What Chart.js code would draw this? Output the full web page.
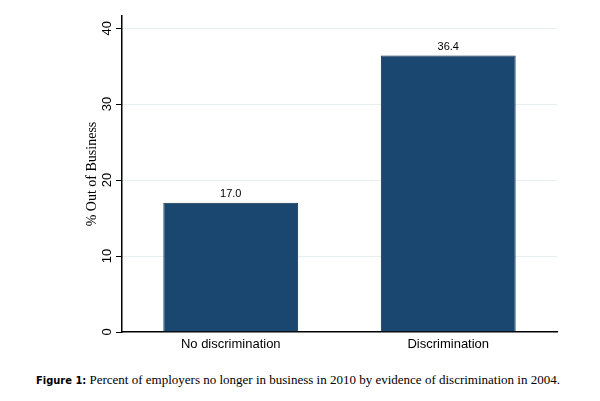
<!DOCTYPE html>
<html>
<head>
<meta charset="utf-8">
<script src="https://cdn.jsdelivr.net/npm/chart.js@4.4.1/dist/chart.umd.min.js"></script>
<style>
  html, body { margin: 0; padding: 0; background: #ffffff; }
  #wrap { position: relative; width: 600px; height: 401px; }
  #chart-box { position: absolute; left: 0; top: 0; width: 600px; height: 362px; }
  #caption {
    position: absolute; left: 0; top: 372px; width: 596px; text-align: center;
    font-family: 'Liberation Serif', serif; font-size: 13px; color: #000;
    white-space: nowrap;
  }
  #caption b { font-family: 'DejaVu Sans Condensed', 'Liberation Sans Narrow', sans-serif; font-size: 11px; }
</style>
</head>
<body>
<div id="wrap">
  <div id="chart-box"><canvas id="out-chart"></canvas></div>
  <div id="caption"><b>Figure 1:</b> Percent of employers no longer in business in 2010 by evidence of discrimination in 2004.</div>
</div>
<script>
// Chart data
const categories = ['No discrimination', 'Discrimination'];
const outOfBusiness = [17.0, 36.4];
const yTicks = [0, 10, 20, 30, 40];

const barFill = '#1a476f';
const gridColor = '#e6eef1';

// Rotated y tick labels and value labels above the bars
const labelPlugin = {
  id: 'labelPlugin',
  afterDraw(chart) {
    const ctx = chart.ctx;
    const yScale = chart.scales.y;
    ctx.save();
    ctx.fillStyle = '#000';
    ctx.font = "13px 'Liberation Sans', Arial, sans-serif";
    ctx.textAlign = 'center';
    ctx.textBaseline = 'middle';
    yTicks.forEach((t) => {
      const y = yScale.getPixelForValue(t);
      ctx.save();
      ctx.translate(yScale.right - 15, y);
      ctx.rotate(-Math.PI / 2);
      ctx.fillText(String(t), 0, 0);
      ctx.restore();
    });

    ctx.font = "11px 'Liberation Sans', Arial, sans-serif";
    ctx.textBaseline = 'bottom';
    chart.getDatasetMeta(0).data.forEach((bar, i) => {
      ctx.fillText(outOfBusiness[i].toFixed(1), bar.x, bar.y - 3);
    });
    ctx.restore();
  }
};

const ctx = document.getElementById('out-chart').getContext('2d');
window.outChart = new Chart(ctx, {
  type: 'bar',
  data: {
    labels: categories,
    datasets: [
      {
        data: outOfBusiness,
        backgroundColor: barFill,
        borderColor: '#0e2c4a',
        borderWidth: 1,
        inflateAmount: 0,
        categoryPercentage: 1.0,
        barPercentage: 0.62
      }
    ]
  },
  options: {
    responsive: true,
    maintainAspectRatio: false,
    animation: false,
    layout: {
      padding: { left: 84, right: 43, top: 16, bottom: 0 }
    },
    plugins: {
      legend: { display: false },
      tooltip: { enabled: false }
    },
    scales: {
      x: {
        grid: { display: false, drawTicks: false },
        border: { display: true, color: '#000', width: 1.5 },
        ticks: {
          color: '#000',
          padding: 5,
          font: { size: 13, family: "'Liberation Sans', Arial, sans-serif" }
        },
        afterFit(scale) { scale.height = 30; }
      },
      y: {
        min: 0,
        max: 41.6,
        ticks: {
          stepSize: 10,
          includeBounds: false,
          display: false
        },
        grid: {
          color: (c) => (c.tick && c.tick.value === 0 ? 'rgba(0,0,0,0)' : gridColor),
          lineWidth: 1,
          drawTicks: true,
          tickLength: 6,
          tickColor: '#000'
        },
        border: { display: true, color: '#000', width: 1.5 },
        title: {
          display: true,
          text: '% Out of Business',
          color: '#000',
          padding: 0,
          font: { size: 14, family: "'Liberation Serif', 'Times New Roman', serif" }
        },
        afterFit(scale) { scale.width = 38; }
      }
    }
  },
  plugins: [labelPlugin]
});
</script>
</body>
</html>
